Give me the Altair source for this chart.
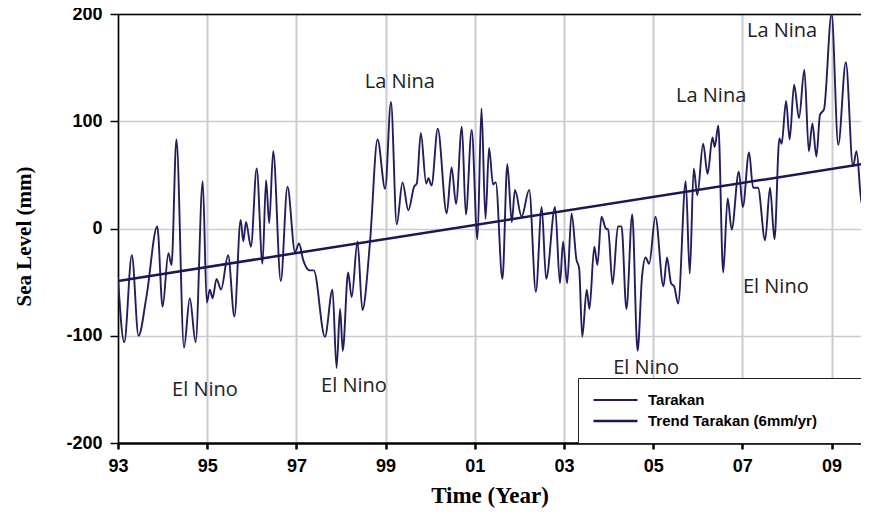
import altair as alt
import pandas as pd

# ---- data ----
years = [
    1993.00, 1993.14, 1993.31, 1993.46, 1993.64, 1993.88, 1994.00, 1994.13, 1994.20, 1994.31,
    1994.48, 1994.61, 1994.74, 1994.90, 1994.99, 1995.06, 1995.12, 1995.21, 1995.31, 1995.47,
    1995.61, 1995.75, 1995.81, 1995.87, 1995.98, 1996.11, 1996.24, 1996.32, 1996.39, 1996.48,
    1996.65, 1996.80, 1996.97, 1997.06, 1997.15, 1997.30, 1997.39, 1997.64, 1997.81, 1997.90,
    1997.98, 1998.04, 1998.16, 1998.24, 1998.37, 1998.48, 1998.65, 1998.82, 1998.99, 1999.12,
    1999.25, 1999.38, 1999.51, 1999.64, 1999.70, 1999.79, 1999.91, 1999.96, 2000.03, 2000.17,
    2000.37, 2000.48, 2000.58, 2000.71, 2000.80, 2000.93, 2001.06, 2001.15, 2001.24, 2001.32,
    2001.41, 2001.47, 2001.62, 2001.73, 2001.83, 2001.90, 2002.05, 2002.22, 2002.37, 2002.50,
    2002.60, 2002.80, 2002.91, 2002.98, 2003.07, 2003.17, 2003.28, 2003.34, 2003.41, 2003.51,
    2003.57, 2003.68, 2003.75, 2003.84, 2003.94, 2003.99, 2004.09, 2004.21, 2004.29, 2004.40,
    2004.53, 2004.65, 2004.75, 2004.83, 2004.91, 2005.05, 2005.23, 2005.31, 2005.40, 2005.47,
    2005.56, 2005.73, 2005.82, 2005.91, 2005.99, 2006.12, 2006.22, 2006.33, 2006.38, 2006.46,
    2006.57, 2006.67, 2006.76, 2006.92, 2007.01, 2007.15, 2007.24, 2007.35, 2007.51, 2007.62,
    2007.72, 2007.83, 2007.88, 2007.98, 2008.06, 2008.16, 2008.27, 2008.39, 2008.49, 2008.57,
    2008.66, 2008.74, 2008.83, 2009.00, 2009.15, 2009.32, 2009.48, 2009.56, 2009.68, 2009.84,
]
sea_level = [
    -46, -106, -25, -100, -63, 2, -73, -23, -34, 83,
    -111, -65, -106, 44, -69, -57, -65, -47, -57, -25,
    -82, 8, -12, 6, -17, 56, -33, 45, 5, 72,
    -49, 39, -22, -14, -29, -39, -39, -101, -57, -130,
    -75, -114, -41, -64, -12, -76, -13, 83, 37, 118,
    4, 43, 17, 39, 42, 89, 42, 47, 40, 93,
    14, 57, 23, 95, 13, 92, -10, 112, 9, 75,
    41, 43, -47, 60, 6, 36, 11, 36, -59, 20,
    -47, 20, -51, -12, -51, 14, -29, -37, -101, -57,
    -75, -17, -34, 11, 0, -1, -52, 2, 2, -75,
    13, -114, -45, -27, -33, 11, -54, -27, -51, -54,
    -70, 44, -42, 56, 31, 79, 51, 85, 76, 96,
    -41, 28, -1, 53, 20, 71, 38, 38, -11, 38,
    -10, 84, 79, 119, 83, 134, 103, 148, 72, 98,
    67, 106, 111, 200, 78, 155, 58, 72, 22, 50,
]
trend_years = [1993.0, 2009.84]
trend_values = [-49, 61]
series_names = ["Tarakan", "Trend Tarakan (6mm/yr)"]

x_tick_values = [1993, 1995, 1997, 1999, 2001, 2003, 2005, 2007, 2009]
x_tick_labels = ["93", "95", "97", "99", "01", "03", "05", "07", "09"]
y_tick_values = [-200, -100, 0, 100, 200]
y_tick_labels = ["-200", "-100", "0", "100", "200"]

ann_text = ["La Nina", "La Nina", "La Nina", "El Nino", "El Nino", "El Nino", "El Nino"]
ann_year = [1999.32, 2006.30, 2007.89, 1994.95, 1998.29, 2004.84, 2007.75]
ann_value = [137, 124, 184, -151, -147, -130, -55]

# ---- tables ----
df = pd.DataFrame({"year": years, "value": sea_level, "series": series_names[0]})
tdf = pd.DataFrame({"year": trend_years, "value": trend_values, "series": series_names[1]})
adf = pd.DataFrame({"year": ann_year, "value": ann_value, "text": ann_text})


def chain(values, labels):
    expr = ""
    for v, l in zip(values, labels):
        expr += f"datum.value == {v} ? '{l}' : "
    return expr + "''"


# the visible window ends where the page ends (the reference is cut at its right edge)
xscale = alt.Scale(domain=[1993, 2009.66], nice=False, zero=False)
yscale = alt.Scale(domain=[-200, 200], nice=False, zero=False)
color_scale = alt.Scale(domain=series_names, range=["#221d63", "#1a1657"])
width_scale = alt.Scale(domain=series_names, range=[1.9, 2.5])

# blank (non-whitespace) padding so the legend frame runs off the right edge, as in the reference
pad = "\u2800" * 7
legend = alt.Legend(
    orient="none", legendX=460, legendY=364, title=None,
    symbolType="stroke", symbolSize=1936, strokeColor="#222222", fillColor="white",
    padding=14, rowPadding=5, clipHeight=16,
    labelFont="Liberation Sans", labelFontSize=15,
    labelFontWeight="bold", labelColor="black", labelOffset=9, labelLimit=600,
    labelExpr=f"datum.label + '{pad}'",
)

x_axis = alt.Axis(
    values=x_tick_values, labelExpr=chain(x_tick_values, x_tick_labels), title="Time (Year)",
    grid=True, gridColor="#cccccc", gridWidth=2,
    domainColor="black", domainWidth=2.5, tickColor="black", tickWidth=2.5, tickSize=6,
    labelFont="Liberation Sans", labelFontSize=18, labelFontWeight="bold", labelColor="black",
    labelPadding=8, labelFlush=False,
    titleFont="Liberation Serif", titleFontSize=23, titleFontWeight="bold", titleColor="black",
    titleY=59, titleBaseline="alphabetic",
)
x_axis_top = alt.Axis(orient="top", labels=False, ticks=False, grid=False, title=None,
                      domainColor="black", domainWidth=1.5)
y_axis = alt.Axis(
    values=y_tick_values, labelExpr=chain(y_tick_values, y_tick_labels), title="Sea Level (mm)",
    grid=True, gridColor="#cccccc", gridWidth=1.5,
    domainColor="black", domainWidth=1.5, tickColor="black", tickSize=8, tickWidth=1.5,
    labelFont="Liberation Sans", labelFontSize=18, labelFontWeight="bold", labelColor="black",
    labelPadding=8,
    titleFont="Liberation Serif", titleFontSize=21, titleFontWeight="bold", titleColor="black",
    titleX=-88, titleY=222, titleBaseline="alphabetic", titleAngle=270,
)

series = alt.Chart(df).mark_line(interpolate="monotone", clip=True).encode(
    x=alt.X("year:Q", scale=xscale, axis=x_axis),
    y=alt.Y("value:Q", scale=yscale, axis=y_axis),
    color=alt.Color("series:N", scale=color_scale, legend=legend),
    strokeWidth=alt.StrokeWidth("series:N", scale=width_scale, legend=legend),
)

trend = alt.Chart(tdf).mark_line(clip=True).encode(
    x=alt.X("year:Q", scale=xscale, axis=x_axis_top),
    y=alt.Y("value:Q", scale=yscale, axis=y_axis),
    color=alt.Color("series:N", scale=color_scale, legend=legend),
    strokeWidth=alt.StrokeWidth("series:N", scale=width_scale, legend=legend),
)

notes = alt.Chart(adf).mark_text(
    font="Open Sans", fontSize=20, color="#222222", align="center", baseline="middle"
).encode(
    x=alt.X("year:Q", scale=xscale, axis=None),
    y=alt.Y("value:Q", scale=yscale, axis=y_axis),
    text="text:N",
)

chart = (
    alt.layer(series, trend, notes)
    .resolve_axis(x="independent")
    .properties(
        width=743, height=429,
        autosize=alt.AutoSizeParams(type="none"),
        padding={"left": 110, "top": 6, "right": 0, "bottom": 65},
        background="white",
    )
    .configure_view(stroke=None)
)

chart.save("out.html", embed_options={"renderer": "svg", "actions": False})
